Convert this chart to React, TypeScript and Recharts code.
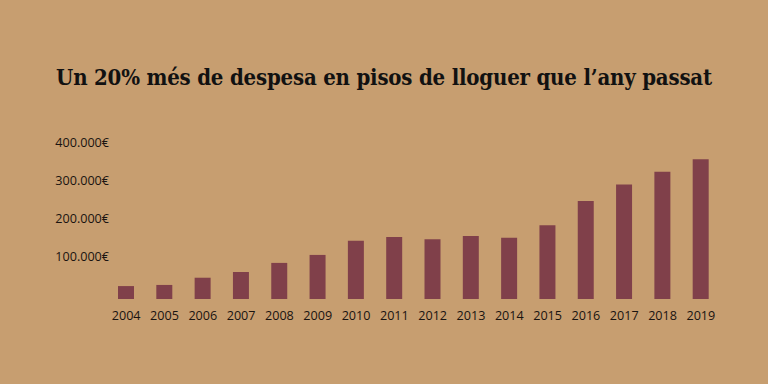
import React from "react";
import { BarChart, Bar, XAxis, YAxis } from "recharts";

const years = ["2004","2005","2006","2007","2008","2009","2010","2011","2012","2013","2014","2015","2016","2017","2018","2019"];
const spending = [34000, 37000, 56000, 71000, 95000, 116000, 153000, 163000, 157000, 166000, 161000, 194000, 258000, 301000, 335000, 368000];
const yTicks = [100000, 200000, 300000, 400000];
const title = "Un 20% més de despesa en pisos de lloguer que l\u2019any passat";

const data = years.map((y, i) => ({ year: y, value: spending[i] }));

const fmt = (v: number) => (v / 1000).toFixed(0) + ".000€";

const YTick = (props: any) => {
  const { x, y, payload } = props;
  return (
    <text x={x + 8} y={y} dy={0} textAnchor="end" fill="#1a1410" fontFamily="'Open Sans', sans-serif" fontSize={12.6}>
      {fmt(payload.value)}
    </text>
  );
};

const XTick = (props: any) => {
  const { x, y, payload } = props;
  return (
    <text x={x} y={y + 3} textAnchor="middle" fill="#1a1410" fontFamily="'Open Sans', sans-serif" fontSize={12.6}>
      {payload.value}
    </text>
  );
};

export default function App() {
  return (
    <div style={{ position: "fixed", left: 0, top: 0, width: 768, height: 384, background: "#c79e70" }}>
      <div
        style={{
          position: "absolute",
          left: 0,
          top: 62,
          width: 768,
          textAlign: "center",
          fontFamily: "'DejaVu Serif Condensed', 'DejaVu Serif', serif",
          fontWeight: "bold",
          fontSize: 22,
          letterSpacing: -0.2,
          color: "#111",
          whiteSpace: "nowrap",
          lineHeight: "30px",
        }}
      >
        {title}
      </div>
      <div style={{ position: "absolute", left: 0, top: 0 }}>
        <BarChart width={768} height={384} data={data} margin={{ top: 147, right: 48, left: 0, bottom: 55 }}>
          <XAxis dataKey="year" axisLine={false} tickLine={false} height={30} tick={<XTick />} interval={0} tickMargin={12} />
          <YAxis domain={[0, 400000]} ticks={yTicks} axisLine={false} tickLine={false} width={107} tick={<YTick />} tickMargin={0} />
          <Bar dataKey="value" fill="#80404a" barSize={16} isAnimationActive={false} />
        </BarChart>
      </div>
    </div>
  );
}
